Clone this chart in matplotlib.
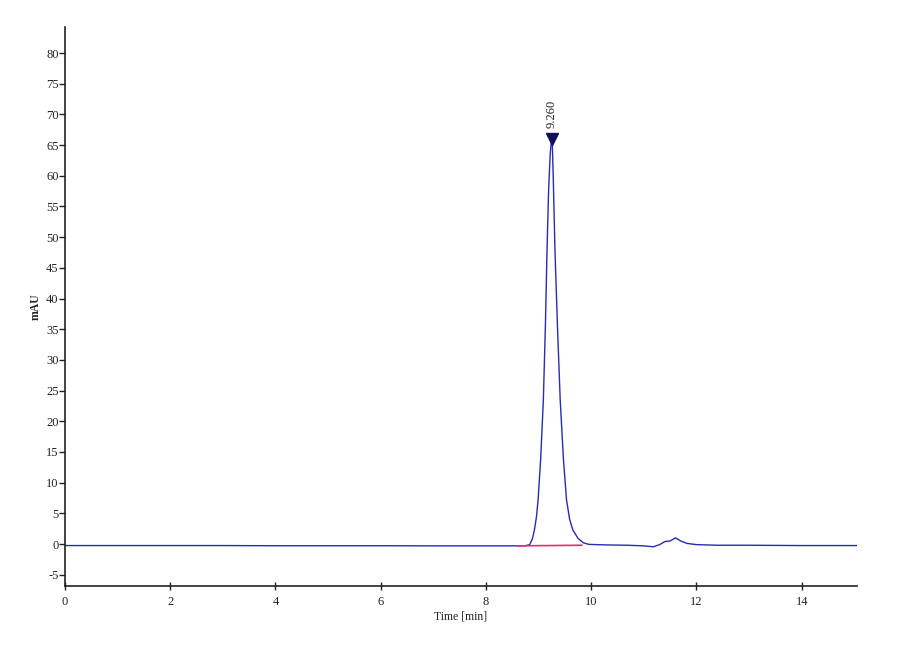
import matplotlib
matplotlib.use("Agg")
import matplotlib.pyplot as plt

# Chromatogram trace (time in min, signal in mAU)
time_min = [0.0, 1.0, 2.0, 3.0, 4.0, 5.0, 6.0, 7.0, 8.0, 8.6, 8.75, 8.83, 8.88,
            8.92, 8.96, 8.99, 9.04, 9.09, 9.13, 9.16, 9.19, 9.22, 9.245, 9.26,
            9.28, 9.31, 9.36, 9.41, 9.47, 9.53, 9.59, 9.65, 9.75, 9.85, 9.95,
            10.1, 10.3, 10.7, 11.0, 11.18, 11.30, 11.40, 11.50, 11.60, 11.70,
            11.82, 12.0, 12.4, 13.0, 14.0, 15.05]
signal_mau = [-0.25, -0.25, -0.25, -0.25, -0.28, -0.28, -0.28, -0.3, -0.3, -0.3,
              -0.28, -0.1, 0.8, 2.3, 4.5, 7.2, 14.0, 23.5, 36.0, 48.0, 57.7,
              63.5, 66.0, 65.5, 59.0, 48.0, 35.0, 23.5, 14.0, 7.2, 4.0, 2.3,
              0.9, 0.2, -0.05, -0.1, -0.15, -0.2, -0.3, -0.45, -0.1, 0.4, 0.5,
              1.0, 0.5, 0.1, -0.1, -0.2, -0.2, -0.25, -0.25]

# Integration baseline
baseline_t = [8.6, 9.82]
baseline_v = [-0.3, -0.2]

# Peak annotation
peak_time = 9.26
peak_height = 66.0
peak_label = "9.260"

x_ticks = [0, 2, 4, 6, 8, 10, 12, 14]
y_ticks = [-5, 0, 5, 10, 15, 20, 25, 30, 35, 40, 45, 50, 55, 60, 65, 70, 75, 80]

plt.rcParams['font.family'] = ['Liberation Serif', 'DejaVu Serif']

fig = plt.figure(figsize=(9, 6.6), dpi=100)
ax = fig.add_axes([65/900, 1 - 586/660, (857 - 65)/900, (586 - 27)/660])

ax.plot(time_min, signal_mau, color='#2a2ab4', lw=1.0)
ax.plot(baseline_t, baseline_v, color='#e0306e', lw=1.2)
ax.plot([peak_time - 0.015], [peak_height], marker='v', color='#10105a',
        markersize=8, linestyle='none')
ax.annotate(peak_label, xy=(peak_time - 0.015, peak_height), xytext=(0, 8),
            textcoords='offset points', rotation=90, ha='center', va='bottom',
            fontsize=9, color='#222222')

ax.set_xlim(0, 15.05)
ax.set_ylim(-6.84, 84.24)
ax.set_xticks(x_ticks)
ax.set_yticks(y_ticks)
ax.set_xticklabels([str(t) for t in x_ticks])
ax.set_yticklabels([str(t) for t in y_ticks])

for s in ['top', 'right']:
    ax.spines[s].set_visible(False)
for s in ['left', 'bottom']:
    ax.spines[s].set_linewidth(1.2)
    ax.spines[s].set_color('#222222')

ax.tick_params(axis='y', direction='out', length=4, width=1, labelsize=9,
               pad=0.5, colors='#222222')
ax.tick_params(axis='x', direction='inout', length=6, width=1, labelsize=9,
               pad=4, colors='#222222')

ax.set_xlabel('Time [min]', fontsize=8.5, labelpad=2, color='#222222')
ax.set_ylabel('mAU', fontsize=8.5, fontweight='bold', color='#222222')
ax.yaxis.set_label_coords(-0.029, 0.5)

fig.savefig('out.png', dpi=100, facecolor='white')
